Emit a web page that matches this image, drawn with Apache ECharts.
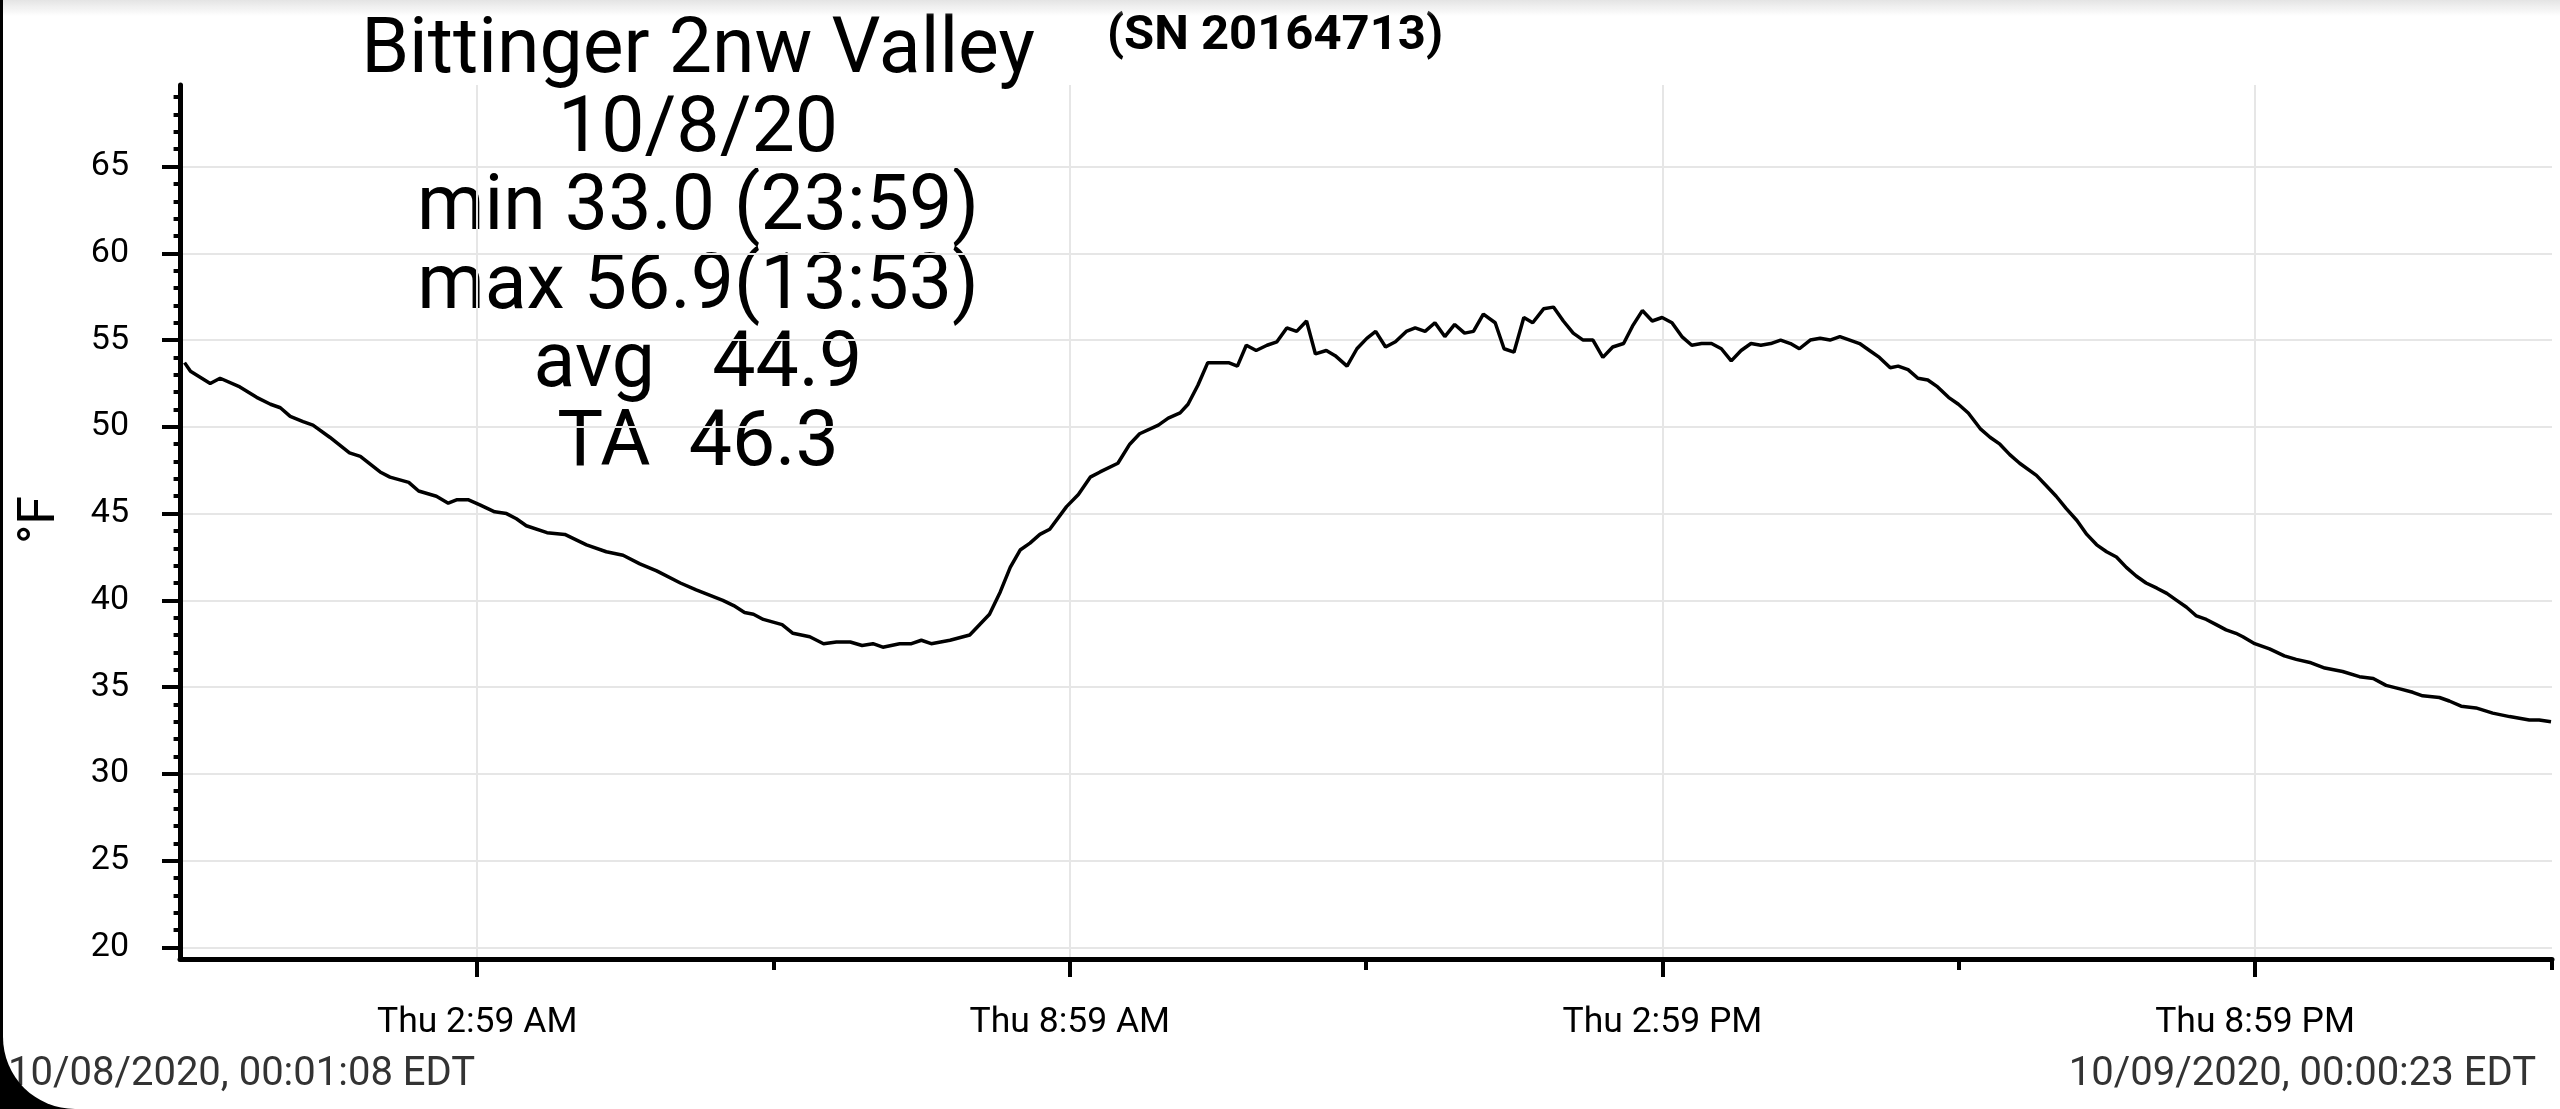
<!DOCTYPE html>
<html>
<head>
<meta charset="utf-8">
<title>Bittinger 2nw Valley</title>
<script src="https://cdn.jsdelivr.net/npm/echarts@6/dist/echarts.min.js"></script>
<style>
  html, body { margin: 0; padding: 0; background: #fff; overflow: hidden; }
  #chart { position: absolute; left: 0; top: 0; width: 2560px; height: 1109px; }
  /* phone screen edge: thin black line on the left and the rounded corner */
  #frame { position: absolute; left: 0; top: 0; width: 2560px; height: 1109px; overflow: hidden; pointer-events: none; }
  #frame div { position: absolute; left: 3px; top: -100px; width: 2700px; height: 1209px;
               border-bottom-left-radius: 72px; box-shadow: 0 0 0 90px #000; }
  #topshade { position: absolute; left: 0; top: 0; width: 2560px; height: 16px; pointer-events: none;
              background: linear-gradient(#e4e4e4, rgba(255,255,255,0)); }
</style>
</head>
<body>
<div id="chart"></div>
<div id="topshade"></div>
<div id="frame"><div></div></div>
<script>
// readings of the logger, hours after midnight on 10/8/20 and °F
var hours = [0.02,0.08,0.28,0.38,0.58,0.75,0.89,0.99,1.09,1.22,
  1.32,1.49,1.69,1.80,2.00,2.10,2.29,2.39,2.57,2.69,
  2.78,2.89,3.01,3.16,3.28,3.38,3.48,3.69,3.87,4.09,
  4.29,4.46,4.63,4.80,5.04,5.20,5.47,5.58,5.69,5.78,
  5.88,6.07,6.18,6.35,6.49,6.62,6.76,6.88,6.99,7.09,
  7.26,7.38,7.48,7.58,7.77,7.97,8.17,8.28,8.38,8.48,
  8.58,8.68,8.78,8.95,9.07,9.19,9.29,9.47,9.59,9.69,
  9.88,9.98,10.10,10.18,10.28,10.38,10.49,10.59,10.68,10.77,
  10.87,10.98,11.08,11.18,11.28,11.38,11.47,11.58,11.67,11.79,
  11.89,11.99,12.08,12.18,12.28,12.39,12.48,12.58,12.68,12.78,
  12.88,12.98,13.07,13.17,13.29,13.38,13.48,13.58,13.67,13.78,
  13.88,13.98,14.08,14.18,14.28,14.38,14.48,14.59,14.68,14.78,
  14.88,14.98,15.08,15.18,15.28,15.38,15.48,15.58,15.68,15.78,
  15.88,15.98,16.08,16.18,16.28,16.37,16.48,16.58,16.68,16.78,
  16.88,16.98,17.08,17.18,17.29,17.37,17.47,17.57,17.67,17.77,
  17.88,17.98,18.08,18.20,18.30,18.40,18.50,18.60,18.77,18.87,
  18.97,19.07,19.18,19.28,19.38,19.48,19.58,19.68,19.78,19.88,
  19.99,20.09,20.19,20.29,20.39,20.49,20.59,20.69,20.79,20.86,
  20.98,21.13,21.28,21.40,21.55,21.69,21.87,22.04,22.18,22.31,
  22.45,22.58,22.68,22.85,22.95,23.07,23.22,23.39,23.56,23.76,
  23.86,23.98];

var temps = [53.7,53.2,52.5,52.8,52.3,51.7,51.3,51.1,50.6,50.3,
  50.1,49.4,48.5,48.3,47.4,47.1,46.8,46.3,46.0,45.6,
  45.8,45.8,45.5,45.1,45.0,44.7,44.3,43.9,43.8,43.2,
  42.8,42.6,42.1,41.7,41.0,40.6,40.0,39.7,39.3,39.2,
  38.9,38.6,38.1,37.9,37.5,37.6,37.6,37.4,37.5,37.3,
  37.5,37.5,37.7,37.5,37.7,38.0,39.2,40.5,41.9,42.9,
  43.3,43.8,44.1,45.4,46.1,47.1,47.4,47.9,49.0,49.6,
  50.1,50.5,50.8,51.3,52.4,53.7,53.7,53.7,53.5,54.7,
  54.4,54.7,54.9,55.7,55.5,56.1,54.2,54.4,54.1,53.5,
  54.5,55.1,55.5,54.6,54.9,55.5,55.7,55.5,56.0,55.2,
  55.9,55.4,55.5,56.5,56.0,54.5,54.3,56.3,56.0,56.8,
  56.9,56.1,55.4,55.0,55.0,54.0,54.6,54.8,55.8,56.7,
  56.1,56.3,56.0,55.2,54.7,54.8,54.8,54.5,53.8,54.4,
  54.8,54.7,54.8,55.0,54.8,54.5,55.0,55.1,55.0,55.2,
  55.0,54.8,54.4,54.0,53.4,53.5,53.3,52.8,52.7,52.3,
  51.7,51.3,50.8,49.9,49.4,49.0,48.4,47.9,47.2,46.6,
  46.0,45.3,44.6,43.8,43.2,42.8,42.5,41.9,41.4,41.0,
  40.7,40.4,40.0,39.6,39.1,38.9,38.6,38.3,38.1,37.9,
  37.5,37.2,36.8,36.6,36.4,36.1,35.9,35.6,35.5,35.1,
  34.9,34.7,34.5,34.4,34.2,33.9,33.8,33.5,33.3,33.1,
  33.1,33.0];

// x axis: labelled ticks every 6 h, small ticks in between
var xTickHours = [2.9833, 8.9833, 14.9833, 20.9833];
var xTickLabels = ['Thu 2:59 AM', 'Thu 8:59 AM', 'Thu 2:59 PM', 'Thu 8:59 PM'];
var xMinorHours = [5.9833, 11.9833, 17.9833, 23.9833];

// y axis: labels every 5 °F, small ticks every degree
var yTickValues = [20, 25, 30, 35, 40, 45, 50, 55, 60, 65];
var yMinorValues = [21,22,23,24,26,27,28,29,31,32,33,34,36,37,38,39,41,42,43,44,
  46,47,48,49,51,52,53,54,56,57,58,59,61,62,63,64,66,67,68,69];

var titleLines = ['Bittinger 2nw Valley', '10/8/20', 'min 33.0 (23:59)',
  'max 56.9(13:53)', 'avg   44.9', 'TA  46.3'];
var serialText = '(SN 20164713)';
var startText = '10/08/2020, 00:01:08 EDT';
var endText = '10/09/2020, 00:00:23 EDT';

var points = [];
for (var i = 0; i < hours.length; i++) {
  points.push([hours[i], temps[i]]);
}

var chart = echarts.init(document.getElementById('chart'));

var texts = [];
for (var j = 0; j < titleLines.length; j++) {
  texts.push({
    type: 'text', x: 698, y: 53 + j * 78.5, silent: true,
    style: { text: titleLines[j], font: '400 77px Roboto', fill: '#000',
             textAlign: 'center', textVerticalAlign: 'middle' }
  });
}
texts.push({
  type: 'text', x: 1275, y: 37, silent: true,
  style: { text: serialText, font: '700 49px Roboto', fill: '#000',
           textAlign: 'center', textVerticalAlign: 'middle' }
});
texts.push({
  type: 'text', x: 41, y: 520, rotation: Math.PI / 2, silent: true,
  style: { text: '°F', font: '400 52px Roboto', fill: '#000',
           textAlign: 'center', textVerticalAlign: 'middle' }
});
texts.push({
  type: 'text', x: 8, y: 1075, silent: true,
  style: { text: startText, font: '400 40px Roboto', fill: '#333',
           textAlign: 'left', textVerticalAlign: 'middle' }
});
texts.push({
  type: 'text', x: 2536, y: 1075, silent: true,
  style: { text: endText, font: '400 40px Roboto', fill: '#333',
           textAlign: 'right', textVerticalAlign: 'middle' }
});

var option = {
  animation: false,
  backgroundColor: '#fff',
  grid: { left: 180, right: 8, top: 85, bottom: 150, outerBoundsMode: 'none' },
  xAxis: [{
    type: 'value', min: -0.026, max: 23.99, position: 'bottom',
    axisLine: { show: true, onZero: false, lineStyle: { color: '#000', width: 5 } },
    axisTick: { show: true, customValues: xTickHours, length: 18, lineStyle: { color: '#000', width: 4 } },
    axisLabel: {
      customValues: xTickHours, margin: 46, color: '#000', fontFamily: 'Roboto', fontSize: 35.5,
      formatter: function (v) {
        for (var k = 0; k < xTickHours.length; k++) {
          if (Math.abs(xTickHours[k] - v) < 0.01) return xTickLabels[k];
        }
        return '';
      }
    },
    splitLine: { show: true, lineStyle: { color: '#e6e6e6', width: 2 } }
  }, {
    type: 'value', min: -0.026, max: 23.99, position: 'bottom',
    axisLine: { show: false },
    axisTick: { show: true, customValues: xMinorHours, length: 11, lineStyle: { color: '#000', width: 4 } },
    axisLabel: { show: false },
    splitLine: { show: false }
  }],
  yAxis: [{
    type: 'value', min: 19.33, max: 69.7, splitNumber: 10, position: 'left',
    axisLine: { show: true, onZero: false, lineStyle: { color: '#000', width: 5 } },
    axisTick: { show: true, customValues: yTickValues, length: 18, lineStyle: { color: '#000', width: 4 } },
    axisLabel: { customValues: yTickValues, margin: 51, color: '#000', fontFamily: 'Roboto', fontSize: 34 },
    splitLine: { show: true, lineStyle: { color: '#e6e6e6', width: 2 } }
  }, {
    type: 'value', min: 19.33, max: 69.7, position: 'left',
    axisLine: { show: false },
    axisTick: { show: true, customValues: yMinorValues, length: 9, lineStyle: { color: '#000', width: 4 } },
    axisLabel: { show: false },
    splitLine: { show: false }
  }],
  graphic: { elements: texts },
  series: [{
    type: 'line',
    xAxisIndex: 0,
    yAxisIndex: 0,
    data: points,
    showSymbol: false,
    symbol: 'none',
    lineStyle: { color: '#000', width: 3.5 },
    z: 5
  }]
};

chart.setOption(option);
</script>
</body>
</html>
